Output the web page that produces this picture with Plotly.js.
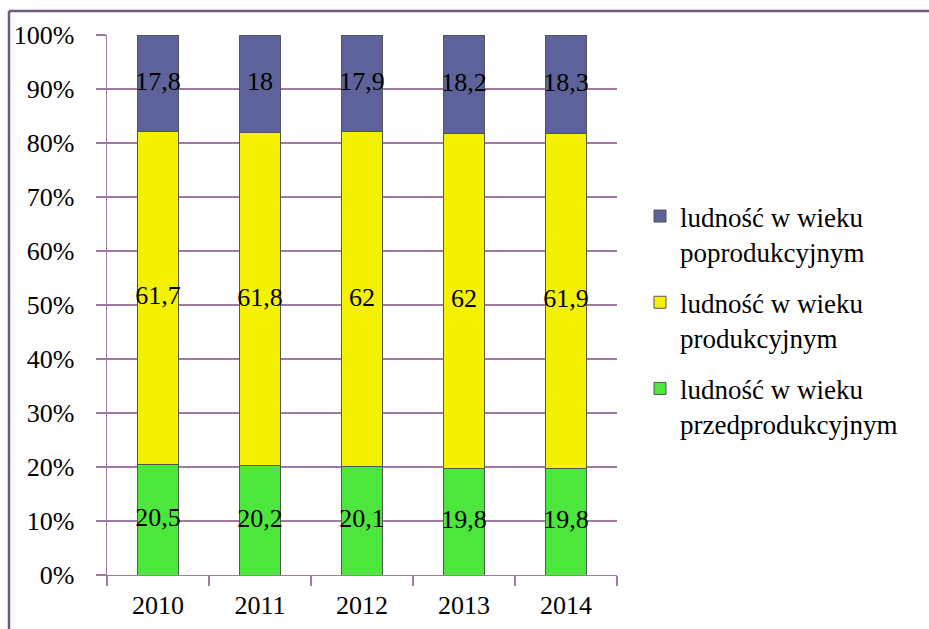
<!DOCTYPE html>
<html>
<head>
<meta charset="utf-8">
<script src="https://cdn.plot.ly/plotly-3.0.1.min.js"></script>
<style>
html,body{margin:0;padding:0;background:#fff;}
#chart{width:929px;height:629px;}
</style>
</head>
<body>
<div id="chart"></div>
<script>
const years = ['2010', '2011', '2012', '2013', '2014'];
const przedprodukcyjny = [20.5, 20.2, 20.1, 19.8, 19.8];
const produkcyjny = [61.7, 61.8, 62, 62, 61.9];
const poprodukcyjny = [17.8, 18, 17.9, 18.2, 18.3];
const seriesNames = [
  'ludność w wieku<br>przedprodukcyjnym',
  'ludność w wieku<br>produkcyjnym',
  'ludność w wieku<br>poprodukcyjnym'
];
const yTickVals = [0, 10, 20, 30, 40, 50, 60, 70, 80, 90, 100];
const yTickText = yTickVals.map(v => v + '%');

const FONT = 'Liberation Serif';
const GRID = '#a07aa0';
const fmt = v => String(v).replace('.', ',');

const W = 929, H = 629;
const M = {l: 107, r: 312, t: 35, b: 54};
const pw = W - M.l - M.r, ph = H - M.t - M.b;
const px2x = px => (px - M.l) / pw;
const py2y = py => (H - M.b - py) / ph;

const series = [przedprodukcyjny, produkcyjny, poprodukcyjny];
const colors = ['#4ce63c', '#f4f200', '#5d639a'];

const data = [];
series.forEach((vals, i) => {
  data.push({
    type: 'bar', x: years, y: vals, name: seriesNames[i],
    marker: {color: colors[i], line: {color: '#555555', width: 1}},
    legendgroup: 'g' + i, legendrank: 10 - i, hoverinfo: 'skip'
  });
});
// value labels centred in each stacked segment
series.forEach((vals, i) => {
  const mids = vals.map((v, k) => {
    let base = 0;
    for (let j = 0; j < i; j++) base += series[j][k];
    return base + v / 2;
  });
  data.push({
    type: 'scatter', mode: 'text', x: years, y: mids, text: vals.map(fmt),
    textposition: 'middle center', textfont: {family: FONT, size: 26, color: '#000'},
    showlegend: false, hoverinfo: 'skip'
  });
});

const layout = {
  width: W, height: H,
  margin: M,
  paper_bgcolor: '#fff', plot_bgcolor: '#fff',
  barmode: 'stack', bargap: 0.59,
  font: {family: FONT, size: 26, color: '#000'},
  showlegend: true,
  legend: {
    x: px2x(640), y: py2y(192), xanchor: 'left', yanchor: 'top',
    traceorder: 'grouped', valign: 'top', tracegroupgap: 13,
    font: {family: FONT, size: 27, color: '#000'},
    bgcolor: 'rgba(0,0,0,0)'
  },
  xaxis: {
    type: 'category', tickson: 'boundaries', ticks: 'outside', ticklen: 10,
    tickcolor: GRID, tickwidth: 1.3, showline: true, linecolor: GRID, linewidth: 1.3,
    showgrid: false, tickfont: {family: FONT, size: 26, color: '#000'},
    ticklabelstandoff: 6, fixedrange: true
  },
  yaxis: {
    range: [0, 100], tickvals: yTickVals, ticktext: yTickText,
    ticks: 'outside', ticklen: 10, tickcolor: GRID, tickwidth: 1.3,
    showline: true, linecolor: GRID, linewidth: 1.3,
    showgrid: true, gridcolor: GRID, gridwidth: 1.3, zeroline: false,
    tickfont: {family: FONT, size: 26, color: '#000'},
    ticklabelstandoff: 16, fixedrange: true
  },
  shapes: [
    {type: 'line', xref: 'paper', yref: 'paper', x0: px2x(9), x1: px2x(935), y0: py2y(11), y1: py2y(11),
     line: {color: '#6e5a80', width: 2.5}},
    {type: 'line', xref: 'paper', yref: 'paper', x0: px2x(9), x1: px2x(9), y0: py2y(11), y1: py2y(640),
     line: {color: '#6e5a80', width: 2.5}}
  ]
};

Plotly.newPlot('chart', data, layout, {displayModeBar: false, staticPlot: true});
</script>
</body>
</html>
